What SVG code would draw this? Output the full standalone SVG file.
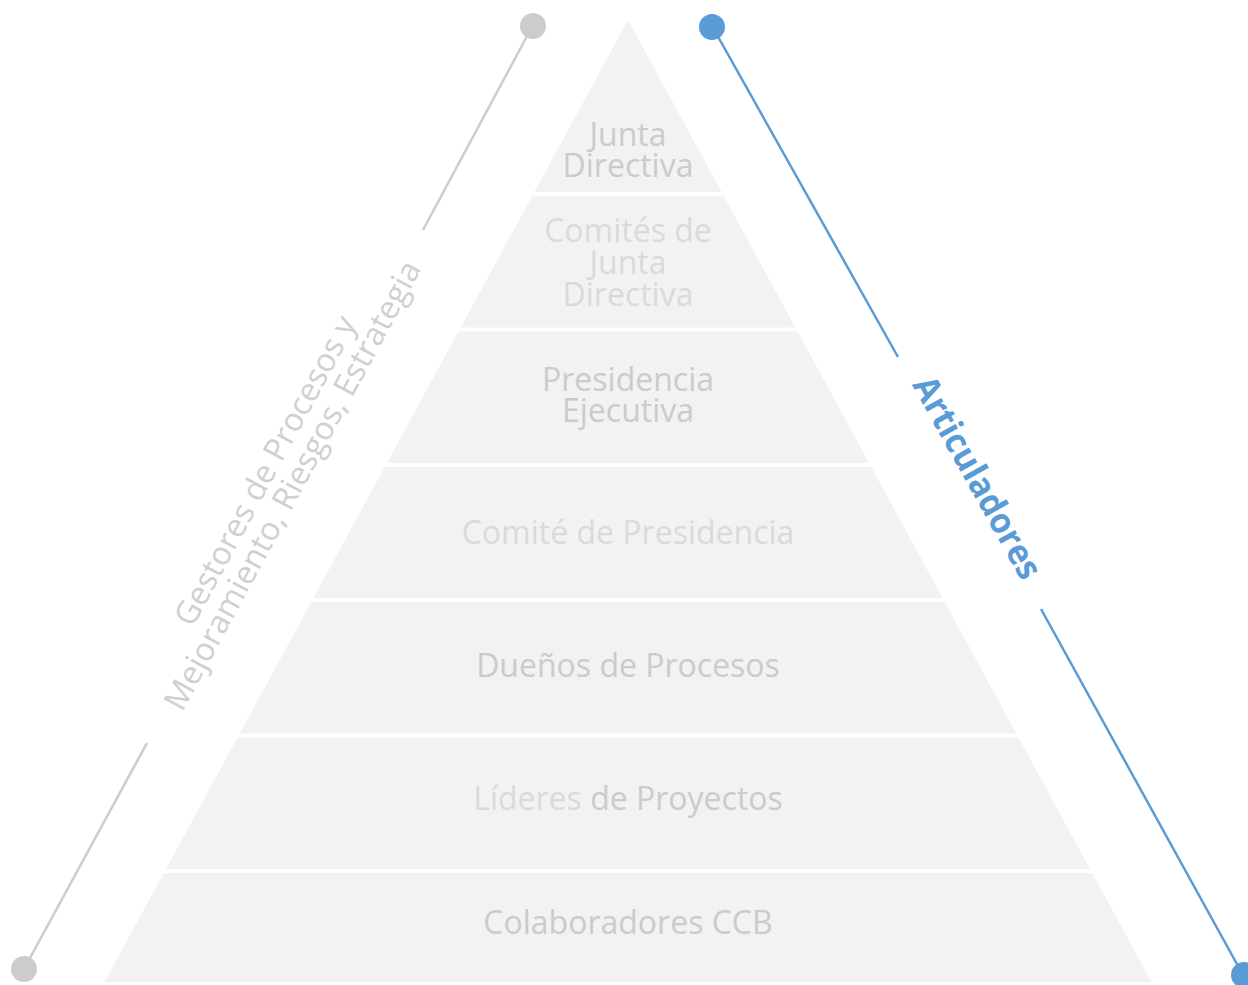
<svg xmlns="http://www.w3.org/2000/svg" width="1248" height="985" viewBox="0 0 1248 985">
<style>
.layer{fill:#f2f2f2}
.t{font-family:"Open Sans","Noto Sans",sans-serif;font-size:32px;text-anchor:middle}
.dk{fill:#cbcbcb}
.lt{fill:#dadada}
.side{font-family:"Open Sans","Noto Sans",sans-serif;font-size:32px;text-anchor:middle;fill:#d0d0d0}
.art{font-family:"Open Sans","Noto Sans",sans-serif;font-size:35px;font-weight:bold;text-anchor:middle;fill:#5b9bd5}
.gl{stroke:#cccccc;stroke-width:2.5;fill:none}
.bl{stroke:#5b9bd5;stroke-width:2.5;fill:none}
</style>
<rect width="1248" height="985" fill="#ffffff"/>
<g id="connectors">
<line class="gl" x1="533" y1="25" x2="423" y2="230"/>
<line class="gl" x1="147" y1="743" x2="24" y2="969"/>
<circle cx="533" cy="26" r="13" fill="#cccccc"/>
<circle cx="24" cy="969" r="13" fill="#cccccc"/>
<line class="bl" x1="712" y1="26" x2="898" y2="357"/>
<line class="bl" x1="1041" y1="609" x2="1243" y2="975"/>
<circle cx="712" cy="27" r="13" fill="#5b9bd5"/>
<circle cx="1244" cy="975" r="13" fill="#5b9bd5"/>
</g>
<g id="layer-junta-directiva">
<polygon class="layer" points="628,20 721.6,192 534.4,192"/>
<text class="t dk" x="628" y="146">Junta<tspan x="628" dy="31">Directiva</tspan></text>
</g>
<g id="layer-comites-junta">
<polygon class="layer" points="532.2,196 723.8,196 795.3,327.5 460.7,327.5"/>
<text class="t lt" x="628" y="242">Comités de<tspan x="628" dy="32">Junta</tspan><tspan x="628" dy="32">Directiva</tspan></text>
</g>
<g id="layer-presidencia-ejecutiva">
<polygon class="layer" points="458.5,331.5 797.5,331.5 869.1,463 386.9,463"/>
<text class="t dk" x="628" y="391">Presidencia<tspan x="628" dy="31">Ejecutiva</tspan></text>
</g>
<g id="layer-comite-presidencia">
<polygon class="layer" points="384.7,467 871.3,467 942.6,598 313.4,598"/>
<text class="t lt" x="628" y="544">Comité de Presidencia</text>
</g>
<g id="layer-duenos-procesos">
<polygon class="layer" points="311.3,602 944.7,602 1016.3,733.5 239.7,733.5"/>
<text class="t dk" x="628" y="677">Dueños de Procesos</text>
</g>
<g id="layer-lideres-proyectos">
<polygon class="layer" points="237.5,737.5 1018.5,737.5 1090,869 166,869"/>
<text class="t" x="628" y="810"><tspan class="lt">Líderes </tspan><tspan class="dk">de Proyectos</tspan></text>
</g>
<g id="layer-colaboradores">
<polygon class="layer" points="163.8,873 1092.2,873 1151.5,982 104.5,982"/>
<text class="t dk" x="628" y="934">Colaboradores CCB</text>
</g>
<g id="label-gestores" transform="translate(288,483) rotate(-61.64)">
<text class="side" x="0" y="-15">Gestores de Procesos y<tspan x="0" dy="31">Mejoramiento, Riesgos, Estrategia</tspan></text>
</g>
<g id="label-articuladores" transform="translate(967,483.5) rotate(60.8)">
<text class="art" x="0" y="0" textLength="226" lengthAdjust="spacingAndGlyphs">Articuladores</text>
</g>
</svg>
